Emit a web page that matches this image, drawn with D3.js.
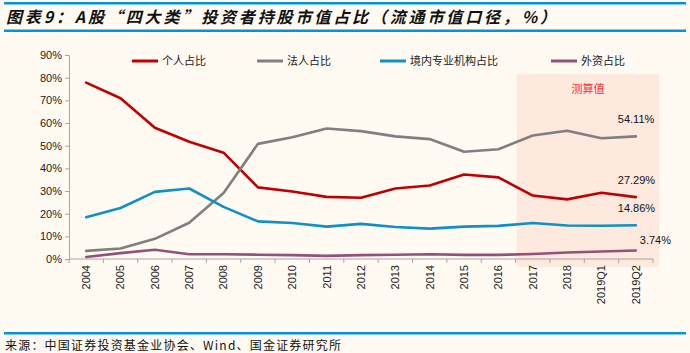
<!DOCTYPE html>
<html>
<head>
<meta charset="utf-8">
<script src="https://cdn.jsdelivr.net/npm/d3@7"></script>
<style>
  html, body { margin: 0; padding: 0; background: #FFFBF2; }
  svg { display: block; }
</style>
</head>
<body>
<svg id="chart" width="690" height="353"></svg>
<script>
const categories = ["2004","2005","2006","2007","2008","2009","2010","2011","2012","2013","2014","2015","2016","2017","2018","2019Q1","2019Q2"];
const seriesNames = ["个人占比", "法人占比", "境内专业机构占比", "外资占比"];
const individual = [77.8, 70.9, 57.9, 51.7, 46.9, 31.6, 29.8, 27.4, 27.0, 31.1, 32.4, 37.3, 36.0, 28.0, 26.3, 29.2, 27.29];
const corporate  = [3.6, 4.6, 8.9, 16.0, 29.1, 50.8, 53.7, 57.6, 56.4, 54.1, 52.9, 47.3, 48.4, 54.5, 56.6, 53.3, 54.11];
const domestic   = [18.4, 22.5, 29.6, 31.1, 23.0, 16.6, 15.9, 14.3, 15.5, 14.1, 13.4, 14.3, 14.6, 15.9, 14.8, 14.7, 14.86];
const foreign    = [0.9, 2.6, 4.1, 2.1, 2.1, 1.9, 1.7, 1.4, 1.7, 1.9, 2.1, 1.8, 1.8, 2.2, 2.9, 3.3, 3.74];
const yTicks = [0, 10, 20, 30, 40, 50, 60, 70, 80, 90];
const estimateStart = "2017";
const estimateLabel = "测算值";
const titleText = "图表9：A股“四大类”投资者持股市值占比（流通市值口径，%）";
const sourceText = "来源：中国证券投资基金业协会、Wind、国金证券研究所";

const colors = ["#C00000", "#7F7F7F", "#1090C4", "#95507A"];
const seriesData = [individual, corporate, domestic, foreign];

const svg = d3.select("#chart");
const plotL = 69, plotR = 653, plotT = 55, plotB = 259;

// header / footer rules
svg.append("rect").attr("x", 4).attr("y", 2).attr("width", 682).attr("height", 2.5).attr("fill", "#0095D9");
svg.append("rect").attr("x", 4).attr("y", 29.5).attr("width", 682).attr("height", 2.5).attr("fill", "#0095D9");
svg.append("rect").attr("x", 4).attr("y", 332).attr("width", 682).attr("height", 2.5).attr("fill", "#0095D9");

svg.append("text").attr("x", 6).attr("y", 22.5)
  .attr("font-family", "'Noto Sans CJK SC', sans-serif")
  .attr("font-size", 16).attr("font-weight", "bold").attr("font-style", "italic")
  .attr("textLength", 550).attr("lengthAdjust", "spacing")
  .attr("fill", "#111").text(titleText);

svg.append("text").attr("x", 5).attr("y", 349.5)
  .attr("font-family", "'Noto Sans CJK SC', sans-serif")
  .attr("font-size", 12).attr("textLength", 336).attr("lengthAdjust", "spacing")
  .attr("fill", "#111").text(sourceText);

const x = d3.scaleBand().domain(categories).range([plotL, plotR]);
const y = d3.scaleLinear().domain([0, 90]).range([plotB, plotT]);
const cx = c => x(c) + x.bandwidth() / 2;

// estimate shading
svg.append("rect")
  .attr("x", x(estimateStart) + 1)
  .attr("y", 74)
  .attr("width", plotR + 6 - x(estimateStart) - 1)
  .attr("height", 267 - 74)
  .attr("fill", "#FDE9DD");

svg.append("text").attr("x", cx("2018") + 21).attr("y", 93)
  .attr("text-anchor", "middle")
  .attr("font-family", "'Noto Sans CJK SC', sans-serif")
  .attr("font-size", 11).attr("fill", "#FF3030").text(estimateLabel);

// y axis
const yAxis = d3.axisLeft(y).tickValues(yTicks).tickSize(4).tickPadding(3).tickFormat(d => d + "%");
const gy = svg.append("g").attr("transform", `translate(${plotL},0)`).call(yAxis);
gy.select(".domain").attr("stroke", "#A6A6A6");
gy.selectAll(".tick line").attr("stroke", "#A6A6A6");
gy.selectAll(".tick text").attr("font-family", "'Liberation Sans', Arial, sans-serif")
  .attr("font-size", 11).attr("fill", "#222");

// x axis
const xAxis = d3.axisBottom(x).tickSize(0).tickPadding(0);
const gx = svg.append("g").attr("transform", `translate(0,${plotB})`).call(xAxis);
gx.select(".domain").attr("stroke", "#A6A6A6").attr("d", `M${plotL},0H${plotR}`);
gx.selectAll(".tick text")
  .attr("font-family", "'Liberation Sans', Arial, sans-serif")
  .attr("font-size", 11).attr("fill", "#222")
  .attr("text-anchor", "end")
  .attr("transform", "rotate(-90)")
  .attr("x", -6).attr("y", 0).attr("dy", "0.35em");
// boundary ticks
const bounds = categories.map(c => x(c)).concat([plotR]);
svg.append("g").selectAll("line").data(bounds).join("line")
  .attr("x1", d => d).attr("x2", d => d)
  .attr("y1", plotB).attr("y2", plotB + 4)
  .attr("stroke", "#A6A6A6");

// lines
const line = d3.line().x((d, i) => cx(categories[i])).y(d => y(d)).curve(d3.curveLinear);
seriesData.forEach((s, k) => {
  svg.append("path").datum(s).attr("d", line)
    .attr("fill", "none").attr("stroke", colors[k]).attr("stroke-width", 2.6)
    .attr("stroke-linejoin", "round").attr("stroke-linecap", "round");
});

// end labels
const last = categories.length - 1;
const lastC = categories[last];
const labelFmt = v => v.toFixed(2) + "%";
[[corporate, -18, -13], [individual, -18, -13], [domestic, -18, -13], [foreign, 4, -7]].forEach(([s, dx, dy]) => {
  svg.append("text")
    .attr("x", cx(lastC) + dx).attr("y", y(s[last]) + dy)
    .attr("font-family", "'Liberation Sans', Arial, sans-serif")
    .attr("font-size", 11).attr("fill", "#111").text(labelFmt(s[last]));
});

// legend
const legendX = [132, 257, 380, 551];
seriesNames.forEach((n, k) => {
  svg.append("line").attr("x1", legendX[k]).attr("x2", legendX[k] + 26)
    .attr("y1", 61).attr("y2", 61).attr("stroke", colors[k]).attr("stroke-width", 3);
  svg.append("text").attr("x", legendX[k] + 30).attr("y", 65)
    .attr("font-family", "'Noto Sans CJK SC', sans-serif")
    .attr("font-size", 11).attr("fill", "#222").text(n);
});
</script>
</body>
</html>
